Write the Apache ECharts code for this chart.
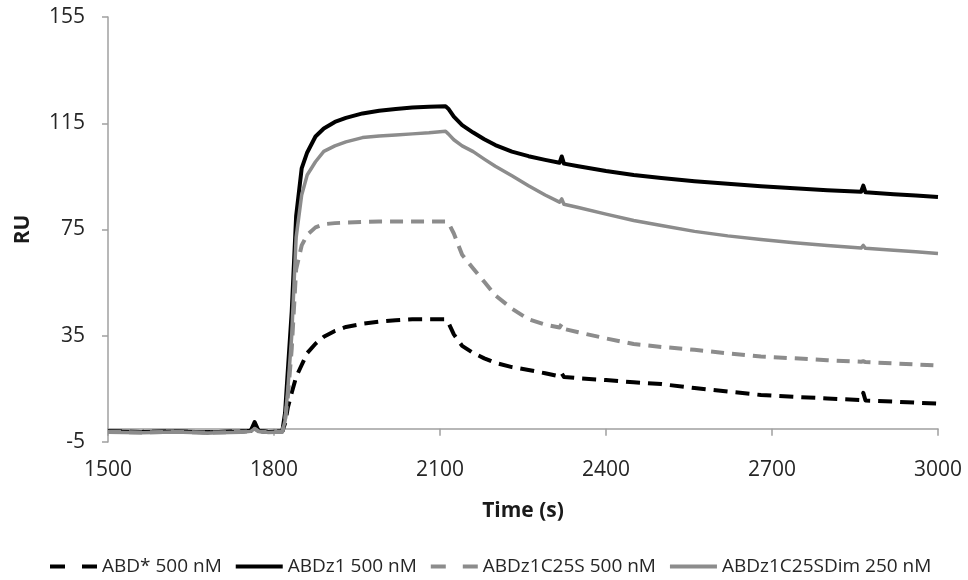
<!DOCTYPE html>
<html>
<head>
<meta charset="utf-8">
<script src="https://cdn.jsdelivr.net/npm/echarts@6/dist/echarts.min.js"></script>
<style>html,body{margin:0;padding:0;background:#fff}#chart{width:968px;height:580px}</style>
</head>
<body>
<div id="chart"></div>
<script>
const times = [1500, 1560, 1620, 1680, 1740, 1758, 1765, 1772, 1790, 1815, 1820, 1825, 1832, 1840, 1850, 1860, 1875, 1890, 1910, 1930, 1960, 1990, 2020, 2050, 2080, 2110, 2115, 2125, 2140, 2160, 2180, 2200, 2230, 2260, 2290, 2316, 2320, 2324, 2350, 2400, 2450, 2500, 2560, 2620, 2680, 2740, 2800, 2861, 2865, 2869, 2920, 2960, 3000];

const abdStar500 = [-1, -1.2, -1, -1.3, -1, -0.8, 1.5, -0.8, -1.2, -1, 2, 8, 13.5, 19.5, 24, 28.5, 32, 34.6, 36.8, 38.3, 39.5, 40.3, 40.8, 41.2, 41.2, 41.2, 40, 35.5, 31.2, 28.5, 26.5, 24.8, 23.2, 22.1, 20.9, 19.7, 20.8, 19.5, 19, 18.3, 17.5, 16.8, 15.3, 14, 12.7, 12, 11.4, 10.8, 13.5, 10.6, 10.2, 9.8, 9.5];

const abdz1_500 = [-1, -1.2, -1, -1.3, -1, -0.8, 2.5, -0.8, -1.2, -1, 6, 22, 44, 80, 98, 104, 110, 113, 115.5, 117, 118.7, 119.7, 120.4, 120.9, 121.2, 121.4, 120.5, 117.5, 114.3, 111.5, 109, 106.8, 104.3, 102.6, 101.2, 100.1, 102.5, 99.8, 98.8, 97, 95.5, 94.4, 93.2, 92.2, 91.3, 90.5, 89.8, 89.2, 91.5, 89, 88.3, 87.8, 87.2];

const abdz1C25S_500 = [-1.2, -1.4, -1.1, -1.5, -1.2, -1, 0, -1, -1.3, -1.1, 3, 12, 30, 60, 69, 73, 75.8, 77, 77.4, 77.6, 77.8, 78, 78, 78, 78, 78, 77.6, 73.5, 65.5, 60.3, 55.3, 50.2, 45.2, 41.2, 39.2, 38.1, 39.5, 37.6, 36.3, 34, 31.9, 30.8, 29.7, 28.4, 27.2, 26.5, 25.8, 25.2, 25.4, 25.1, 24.6, 24.2, 23.8];

const abdz1C25SDim_250 = [-1.3, -1.5, -1.2, -1.6, -1.3, -1, 0, -1, -1.4, -1.2, 3, 15, 35, 72, 88, 95.5, 100.5, 104.4, 106.5, 108, 109.6, 110.2, 110.6, 111, 111.4, 112, 111, 108.8, 106.5, 104.3, 101.5, 98.8, 95.2, 91.5, 88, 85.3, 86.5, 84.5, 83.3, 80.8, 78.4, 76.5, 74.3, 72.6, 71.2, 70, 69, 68, 69, 67.9, 67.2, 66.6, 66];

const seriesNames = ['ABD* 500 nM', 'ABDz1 500 nM', 'ABDz1C25S 500 nM', 'ABDz1C25SDim 250 nM'];
const yTickLabels = [-5, 35, 75, 115, 155];
const xTickLabels = [1500, 1800, 2100, 2400, 2700, 3000];

const FONT = 'Open Sans';
const BLACK = '#000000';
const GRAY = '#8c8c8c';
const AXIS = '#a0a0a0';
const TEXT = '#262626';

const DASH_ICON = 'path://M0,0h15v4h-15zM32,0h15v4h-15z';
const SOLID_ICON = 'path://M0,0h47v4h-47z';

function pairs(vals) { return times.map((t, i) => [t, vals[i]]); }

const styles = [
  { color: BLACK, width: 4, type: [14, 8] },
  { color: BLACK, width: 4, type: 'solid' },
  { color: GRAY, width: 4, type: [13, 8] },
  { color: GRAY, width: 3.5, type: 'solid' }
];
const allVals = [abdStar500, abdz1_500, abdz1C25S_500, abdz1C25SDim_250];

const chart = echarts.init(document.getElementById('chart'), null, { renderer: 'canvas' });
chart.setOption({
  animation: false,
  backgroundColor: '#ffffff',
  grid: { left: 108, right: 30, top: 17, bottom: 138, containLabel: false },
  xAxis: [
    {
      type: 'value', min: 1500, max: 3000, interval: 300, position: 'bottom',
      axisLine: { show: true, onZero: true, lineStyle: { color: AXIS, width: 1.5 } },
      axisTick: { show: true, inside: false, length: 7, lineStyle: { color: AXIS, width: 1.5 } },
      axisLabel: { show: false },
      splitLine: { show: false }
    },
    {
      type: 'value', min: 1500, max: 3000, interval: 300, position: 'bottom',
      axisLine: { show: false, onZero: false },
      axisTick: { show: false },
      axisLabel: { show: true, margin: 18, color: TEXT, fontFamily: FONT, fontSize: 21,
        customValues: xTickLabels, formatter: v => String(v) },
      splitLine: { show: false },
      name: 'Time (s)', nameLocation: 'middle', nameGap: 59,
      nameTextStyle: { fontFamily: FONT, fontSize: 21, fontWeight: 'bold', color: '#1a1a1a' }
    }
  ],
  yAxis: {
    type: 'value', min: -5, max: 155,
    axisLine: { show: true, onZero: false, lineStyle: { color: AXIS, width: 1.5 } },
    axisTick: { show: true, length: 6, customValues: yTickLabels, lineStyle: { color: AXIS, width: 1.5 } },
    axisLabel: { show: true, margin: 23, color: TEXT, fontFamily: FONT, fontSize: 21, customValues: yTickLabels },
    splitLine: { show: false },
    name: 'RU', nameLocation: 'middle', nameRotate: 90, nameGap: 74,
    nameTextStyle: { fontFamily: FONT, fontSize: 21, fontWeight: 'bold', color: '#1a1a1a' }
  },
  legend: {
    show: true, left: 50, top: 557, padding: 0, itemWidth: 47, itemHeight: 4, itemGap: 14,
    symbolKeepAspect: false,
    itemStyle: { borderWidth: 0 },
    textStyle: { fontFamily: FONT, fontSize: 19, color: TEXT },
    data: seriesNames.map((n, i) => ({ name: n, icon: i % 2 === 0 ? DASH_ICON : SOLID_ICON }))
  },
  series: seriesNames.map((n, i) => ({
    name: n, type: 'line', xAxisIndex: 0, yAxisIndex: 0,
    data: pairs(allVals[i]),
    showSymbol: false, symbol: 'none', smooth: false,
    lineStyle: { color: styles[i].color, width: styles[i].width, type: styles[i].type, cap: 'butt', join: 'round' },
    itemStyle: { color: styles[i].color },
    z: 2 + i
  }))
});
</script>
</body>
</html>
